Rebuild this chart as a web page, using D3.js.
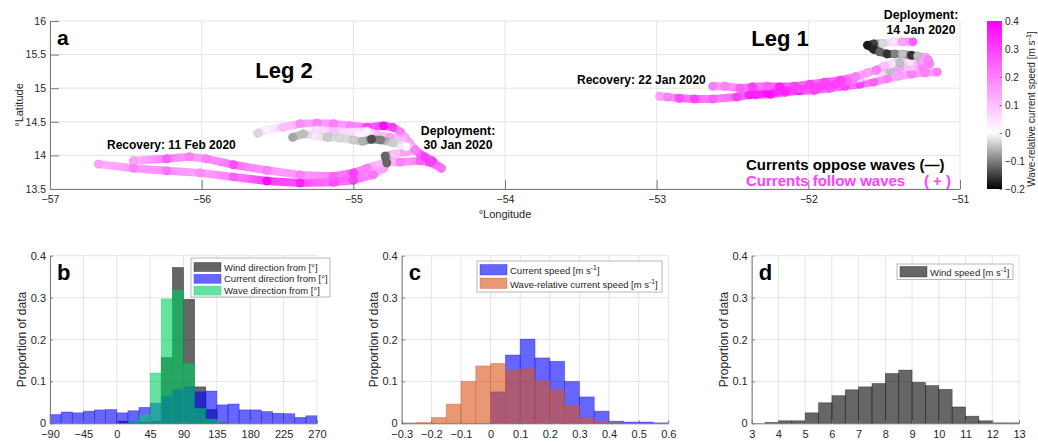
<!DOCTYPE html>
<html>
<head>
<meta charset="utf-8">
<script src="https://cdn.jsdelivr.net/npm/d3@7"></script>
<style>
  body { margin: 0; background: #fff; }
  svg { font-family: "Liberation Sans", Arial, Helvetica, sans-serif; display: block; }
</style>
</head>
<body>
<svg id="fig" width="1038" height="443"></svg>
<script>
// ---------------- Map tracks: [longitude, latitude, wave-relative current speed] ----------------
const leg2TrackA = [
  [-56.68,13.87,0.15],[-56.45,13.81,0.20],[-56.23,13.77,0.22],[-56.01,13.74,0.18],[-55.79,13.68,0.25],
  [-55.57,13.62,0.38],[-55.35,13.59,0.35],[-55.13,13.60,0.28],[-55.00,13.63,0.30],[-54.87,13.71,0.22],
  [-54.80,13.81,0.15],[-54.78,13.89,-0.12]
];
const leg2TrackB = [
  [-56.45,13.92,0.15],[-56.23,13.95,0.25],[-56.08,13.98,0.20],[-55.97,13.95,0.20],[-55.79,13.86,0.28],
  [-55.57,13.78,0.20],[-55.35,13.71,0.20],[-55.13,13.69,0.25],[-55.00,13.74,0.30],[-54.91,13.81,0.20],
  [-54.80,13.89,0.10],[-54.69,13.90,0.20],[-54.56,13.92,0.25],[-54.50,13.90,0.30],[-54.42,13.81,0.20]
];
const leg2Link = [
  [-54.78,13.89,-0.12],[-54.79,13.99,-0.12],[-54.73,14.02,0.10],[-54.66,14.05,0.15],[-54.59,14.08,0.20]
];
const leg2TrackC = [
  [-55.63,14.33,-0.03],[-55.57,14.38,0.02],[-55.46,14.42,0.10],[-55.35,14.47,0.18],[-55.24,14.48,0.20],
  [-55.13,14.47,0.20],[-55.02,14.44,0.20],[-54.91,14.42,0.30],[-54.80,14.44,0.38],[-54.74,14.42,0.30],
  [-54.69,14.35,0.20],[-54.66,14.27,0.15],[-54.63,14.19,0.15],[-54.59,14.08,0.20],[-54.56,14.02,0.25],
  [-54.53,13.98,0.30],[-54.48,13.92,0.30],[-54.42,13.81,0.22]
];
const leg2TrackD = [
  [-55.35,14.35,0.00],[-55.24,14.38,0.05],[-55.13,14.36,0.10],[-55.02,14.35,0.05],[-54.91,14.36,0.02],
  [-54.84,14.30,0.10],[-54.76,14.27,0.15],[-54.67,14.23,0.12],[-54.63,14.13,0.10]
];
const leg2TrackE = [
  [-55.40,14.27,-0.07],[-55.33,14.32,-0.05],[-55.25,14.29,0.04],[-55.17,14.27,-0.04],[-55.09,14.26,-0.03],
  [-55.00,14.23,-0.04],[-54.94,14.21,-0.06],[-54.88,14.24,-0.14],[-54.82,14.23,-0.10],[-54.74,14.19,-0.04],
  [-54.65,14.13,0.00]
];
const leg1TrackA = [
  [-51.31,15.69,0.25],[-51.38,15.69,0.15],[-51.44,15.69,0.05],[-51.51,15.67,-0.03],[-51.57,15.66,-0.15],
  [-51.61,15.64,-0.18],[-51.57,15.58,-0.17],[-51.53,15.54,-0.12],[-51.48,15.51,-0.16],[-51.43,15.51,-0.10],
  [-51.38,15.51,-0.05],[-51.32,15.49,-0.16],[-51.28,15.48,-0.05],[-51.23,15.46,0.15],[-51.21,15.42,0.20]
];
const leg1TrackB = [
  [-51.21,15.42,0.20],[-51.26,15.41,0.15],[-51.33,15.39,0.05],[-51.40,15.38,-0.05],[-51.45,15.36,0.05],
  [-51.50,15.33,0.10],[-51.55,15.27,0.20],[-51.61,15.23,0.15],[-51.69,15.17,0.20],[-51.79,15.12,0.30],
  [-51.89,15.09,0.30],[-51.99,15.06,0.30],[-52.09,15.03,0.30],[-52.19,15.02,0.35],[-52.27,15.03,0.25],
  [-52.37,15.02,0.30],[-52.45,15.00,0.25],[-52.55,15.03,0.20],[-52.63,15.03,0.20]
];
const leg1TrackC = [
  [-51.20,15.36,0.20],[-51.25,15.33,0.20],[-51.32,15.32,0.10],[-51.40,15.30,0.15],[-51.46,15.27,-0.05],
  [-51.53,15.23,0.05],[-51.59,15.20,0.00],[-51.66,15.15,0.10],[-51.74,15.11,0.25],[-51.82,15.06,0.30],
  [-51.92,15.03,0.30],[-52.06,14.99,0.28],[-52.15,14.96,0.35],[-52.27,14.93,0.38],[-52.39,14.90,0.35],
  [-52.47,14.87,0.30],[-52.63,14.84,0.25],[-52.75,14.84,0.30],[-52.85,14.85,0.28],[-52.93,14.87,0.20],
  [-52.98,14.88,0.15]
];
const leg1TrackD = [
  [-51.15,15.24,0.20],[-51.23,15.23,0.20],[-51.32,15.21,0.20],[-51.40,15.18,0.15],[-51.48,15.14,0.20],
  [-51.57,15.09,0.25],[-51.66,15.06,0.30],[-51.76,15.03,0.30],[-51.86,15.00,0.28],[-51.96,14.97,0.30],
  [-52.06,14.96,0.35],[-52.15,14.94,0.30],[-52.25,14.91,0.35],[-52.35,14.90,0.30]
];

const lonTicks = [-57, -56, -55, -54, -53, -52, -51];
const lonLabels = ["-57", "-56", "-55", "-54", "-53", "-52", "-51"];
const latTicks = [13.5, 14, 14.5, 15, 15.5, 16];
const latLabels = ["13.5", "14", "14.5", "15", "15.5", "16"];
const cbarTicks = [-0.2, -0.1, 0, 0.1, 0.2, 0.3, 0.4];
const cbarLabels = ["-0.2", "-0.1", "0", "0.1", "0.2", "0.3", "0.4"];

// ---------------- Histograms ----------------
const dirEdges = [-90,-75,-60,-45,-30,-15,0,15,30,45,60,75,90,105,120,135,150,165,180,195,210,225,240,255,270];
const windDir    = [0,0,0,0,0,0,0.005,0.003,0.003,0.005,0.157,0.372,0.296,0.087,0.033,0.002,0,0,0,0,0,0,0,0];
const currentDir = [0.021,0.027,0.025,0.029,0.032,0.033,0.025,0.030,0.038,0.048,0.064,0.080,0.087,0.075,0.077,0.044,0.046,0.032,0.032,0.028,0.024,0.023,0.014,0.018];
const waveDir    = [0,0,0,0,0,0,0,0.003,0.020,0.120,0.297,0.318,0.142,0.035,0.010,0.002,0,0,0,0,0,0,0,0];
const dirTicks = [-90,-45,0,45,90,135,180,225,270];
const dirLabels = ["-90","-45","0","45","90","135","180","225","270"];

const speedEdges = [-0.3,-0.25,-0.2,-0.15,-0.1,-0.05,0,0.05,0.1,0.15,0.2,0.25,0.3,0.35,0.4,0.45,0.5,0.55,0.6];
const currentSpeed  = [0,0,0,0,0,0,0.075,0.163,0.201,0.156,0.148,0.100,0.063,0.029,0.005,0.003,0.003,0.001];
const relativeSpeed = [0.001,0.002,0.014,0.046,0.100,0.137,0.143,0.127,0.130,0.101,0.080,0.042,0.014,0.004,0.001,0,0,0];
const speedTicks = [-0.3,-0.2,-0.1,0,0.1,0.2,0.3,0.4,0.5,0.6];
const speedLabels = ["-0.3","-0.2","-0.1","0","0.1","0.2","0.3","0.4","0.5","0.6"];

const windEdges = [3.5,4,4.5,5,5.5,6,6.5,7,7.5,8,8.5,9,9.5,10,10.5,11,11.5,12,12.5,13];
const windSpeed = [0.002,0.006,0.006,0.025,0.049,0.066,0.080,0.087,0.095,0.119,0.127,0.098,0.090,0.081,0.039,0.017,0.006,0.001,0.001];
const windTicks = [3,4,5,6,7,8,9,10,11,12,13];
const windLabels = ["3","4","5","6","7","8","9","10","11","12","13"];

const propTicks = [0, 0.1, 0.2, 0.3, 0.4];
const propLabels = ["0", "0.1", "0.2", "0.3", "0.4"];

// ---------------- Styling ----------------
const TXT = "#262626", GRID = "#e4e4e4", AXIS = "#7a7a7a";
const BLUE = "#0000ff", BLACK = "#000000", GREEN = "#00cf61", ORANGE = "#d95319";
const minus = s => s.replace("-", "\u2212");

const svg = d3.select("#fig");
const defs = svg.append("defs");
svg.append("rect").attr("width", 1038).attr("height", 443).attr("fill", "#fff");

const cmap = d3.scaleLinear().domain([-0.2, 0, 0.4]).range(["#000000", "#ffffff", "#ff00ff"]).clamp(true);

// text helper with superscript parts: [[text, isSup], ...]
function rich(sel, parts, size) {
  let prevSup = false;
  parts.forEach(([t, sup]) => {
    const dy = sup ? -size * 0.4 : (prevSup ? size * 0.4 : 0);
    const ts = sel.append("tspan").attr("dy", dy).text(t);
    if (sup) ts.attr("font-size", size * 0.72);
    prevSup = !!sup;
  });
  return sel;
}

function styleAxis(g, size) {
  g.attr("font-family", null).attr("font-size", size);
  g.select(".domain").attr("stroke", AXIS).attr("stroke-width", 1);
  g.selectAll(".tick line").attr("stroke", AXIS);
  g.selectAll(".tick text").attr("fill", TXT);
}

// ================= Panel a: map =================
const M = { l: 50, r: 960, t: 21, b: 189 };
const xLon = d3.scaleLinear().domain([-57, -51]).range([M.l, M.r]);
const yLat = d3.scaleLinear().domain([13.5, 16]).range([M.b, M.t]);

const mapG = svg.append("g");
mapG.append("g").selectAll("line").data(lonTicks).join("line")
  .attr("x1", d => xLon(d)).attr("x2", d => xLon(d)).attr("y1", M.t).attr("y2", M.b)
  .attr("stroke", GRID);
mapG.append("g").selectAll("line").data(latTicks).join("line")
  .attr("x1", M.l).attr("x2", M.r).attr("y1", d => yLat(d)).attr("y2", d => yLat(d))
  .attr("stroke", GRID);

// tracks: colour-graded segments with a dot at each fix
const trackG = mapG.append("g");
let segId = 0;
function drawTrack(pts) {
  const g = trackG.append("g");
  for (let i = 0; i < pts.length - 1; i++) {
    const a = pts[i], b = pts[i + 1];
    const id = "seg" + (segId++);
    const gr = defs.append("linearGradient").attr("id", id).attr("gradientUnits", "userSpaceOnUse")
      .attr("x1", xLon(a[0])).attr("y1", yLat(a[1])).attr("x2", xLon(b[0])).attr("y2", yLat(b[1]));
    gr.append("stop").attr("offset", 0).attr("stop-color", cmap(a[2]));
    gr.append("stop").attr("offset", 1).attr("stop-color", cmap(b[2]));
    g.append("line")
      .attr("x1", xLon(a[0])).attr("y1", yLat(a[1])).attr("x2", xLon(b[0])).attr("y2", yLat(b[1]))
      .attr("stroke", `url(#${id})`).attr("stroke-width", 8).attr("stroke-linecap", "round")
      .attr("stroke-opacity", 0.8);
  }
  g.selectAll("circle").data(pts).join("circle")
    .attr("cx", d => xLon(d[0])).attr("cy", d => yLat(d[1])).attr("r", 4.2)
    .attr("fill", d => cmap(d[2]))
    .attr("stroke", d => d3.color(cmap(d[2])).darker(0.6)).attr("stroke-width", 0.6).attr("stroke-opacity", 0.5);
}
[leg2TrackA, leg2TrackB, leg2TrackC, leg2TrackD, leg2Link, leg2TrackE,
 leg1TrackD, leg1TrackC, leg1TrackB, leg1TrackA].forEach(drawTrack);

// map axes
const mx = mapG.append("g").attr("transform", `translate(0,${M.b})`)
  .call(d3.axisBottom(xLon).tickValues(lonTicks).tickFormat((d, i) => minus(lonLabels[i]))
    .tickSizeInner(-9).tickSizeOuter(0).tickPadding(7));
styleAxis(mx, 10.5);
const my = mapG.append("g").attr("transform", `translate(${M.l},0)`)
  .call(d3.axisLeft(yLat).tickValues(latTicks).tickFormat((d, i) => latLabels[i])
    .tickSizeInner(-9).tickSizeOuter(0).tickPadding(4));
styleAxis(my, 10.5);

mapG.append("text").attr("x", (M.l + M.r) / 2).attr("y", 218).attr("text-anchor", "middle")
  .attr("font-size", 11).attr("fill", TXT).text("°Longitude");
mapG.append("text").attr("transform", "translate(23,105) rotate(-90)").attr("text-anchor", "middle")
  .attr("font-size", 11).attr("fill", TXT).text("°Latitude");

// annotations
const bold = (x, y, txt, size, anchor, fill) => mapG.append("text").attr("x", x).attr("y", y)
  .attr("text-anchor", anchor || "start").attr("font-weight", "bold").attr("font-size", size)
  .attr("fill", fill || "#000").text(txt);
bold(57, 45, "a", 21);
bold(284, 78, "Leg 2", 22, "middle");
bold(780, 46, "Leg 1", 22, "middle");
bold(107, 149, "Recovery: 11 Feb 2020", 12);
bold(458, 135, "Deployment:", 12.3, "middle");
bold(458, 149, "30 Jan 2020", 12.3, "middle");
bold(921, 19, "Deployment:", 12.3, "middle");
bold(921, 34, "14 Jan 2020", 12.3, "middle");
bold(577, 84, "Recovery: 22 Jan 2020", 12);
bold(746, 170, "Currents oppose waves (\u2014)", 15);
bold(746, 186, "Currents follow waves", 15, "start", "#ff40ff");
bold(951, 186, "( + )", 15, "end", "#ff40ff");

// colour bar
const CB = { x: 987, w: 15 };
const yCb = d3.scaleLinear().domain([-0.2, 0.4]).range([M.b, M.t]);
const cbGrad = defs.append("linearGradient").attr("id", "cbar").attr("x1", 0).attr("y1", 1).attr("x2", 0).attr("y2", 0);
cmap.domain().forEach(v => {
  cbGrad.append("stop").attr("offset", (v + 0.2) / 0.6).attr("stop-color", cmap(v));
});
svg.append("rect").attr("x", CB.x).attr("y", M.t).attr("width", CB.w).attr("height", M.b - M.t)
  .attr("fill", "url(#cbar)");
const cbAx = svg.append("g").attr("transform", `translate(${CB.x + CB.w},0)`)
  .call(d3.axisRight(yCb).tickValues(cbarTicks).tickFormat((d, i) => minus(cbarLabels[i]))
    .tickSizeInner(-2.5).tickSizeOuter(0).tickPadding(3));
styleAxis(cbAx, 10);
cbAx.select(".domain").attr("stroke", "none");
const cbLab = svg.append("text").attr("transform", "translate(1035,109) rotate(-90)")
  .attr("text-anchor", "middle").attr("font-size", 10).attr("fill", TXT);
rich(cbLab, [["Wave-relative current speed [m s", false], ["-1", true], ["]", false]], 10);

// ================= Histograms b, c, d =================
const HT = 255.7, HB = 423.3;
function histPanel(cfg) {
  const g = svg.append("g");
  const x = d3.scaleLinear().domain(cfg.domain).range([cfg.left, cfg.right]);
  const y = d3.scaleLinear().domain([0, 0.4]).range([HB, HT]);
  g.append("g").selectAll("line").data(cfg.xTicks).join("line")
    .attr("x1", d => x(d)).attr("x2", d => x(d)).attr("y1", HT).attr("y2", HB).attr("stroke", GRID);
  g.append("g").selectAll("line").data(propTicks).join("line")
    .attr("x1", cfg.left).attr("x2", cfg.right).attr("y1", d => y(d)).attr("y2", d => y(d)).attr("stroke", GRID);

  cfg.series.forEach(s => {
    const bins = s.values.map((v, i) => ({ v, a: s.edges[i], b: s.edges[i + 1] })).filter(d => d.v > 0);
    g.append("g").selectAll("rect").data(bins).join("rect")
      .attr("x", d => x(d.a)).attr("width", d => x(d.b) - x(d.a))
      .attr("y", d => y(d.v)).attr("height", d => y(0) - y(d.v))
      .attr("fill", s.color).attr("fill-opacity", 0.6)
      .attr("stroke", s.color).attr("stroke-opacity", 0.45).attr("stroke-width", 0.7);
  });

  const ax = g.append("g").attr("transform", `translate(0,${HB})`)
    .call(d3.axisBottom(x).tickValues(cfg.xTicks).tickFormat((d, i) => minus(cfg.xLabels[i]))
      .tickSizeInner(-3).tickSizeOuter(0).tickPadding(6.5));
  styleAxis(ax, 11);
  const ay = g.append("g").attr("transform", `translate(${cfg.left},0)`)
    .call(d3.axisLeft(y).tickValues(propTicks).tickFormat((d, i) => propLabels[i])
      .tickSizeInner(-3).tickSizeOuter(0).tickPadding(4));
  styleAxis(ay, 11);

  g.append("text").attr("transform", `translate(${cfg.left - 24},${(HT + HB) / 2}) rotate(-90)`)
    .attr("text-anchor", "middle").attr("font-size", 12).attr("fill", TXT).text("Proportion of data");
  g.append("text").attr("x", cfg.left + 7).attr("y", 280).attr("font-weight", "bold")
    .attr("font-size", 22).attr("fill", "#000").text(cfg.letter);

  // legend
  const L = cfg.legend;
  g.append("rect").attr("x", L.x).attr("y", L.y).attr("width", L.w).attr("height", L.h)
    .attr("fill", "#fff").attr("stroke", "#a6a6a6").attr("stroke-width", 0.8);
  cfg.series.forEach((s, i) => {
    const ry = L.y + L.pad + i * L.pitch;
    g.append("rect").attr("x", L.x + 3).attr("y", ry).attr("width", 27).attr("height", L.sh)
      .attr("fill", s.color).attr("fill-opacity", 0.6)
      .attr("stroke", s.color).attr("stroke-opacity", 0.45).attr("stroke-width", 0.7);
    const t = g.append("text").attr("x", L.x + 33).attr("y", ry + L.sh - 1)
      .attr("font-size", 9.5).attr("fill", TXT);
    rich(t, s.label, 9.5);
  });
}

histPanel({
  left: 50, right: 317, domain: [-90, 270], xTicks: dirTicks, xLabels: dirLabels, letter: "b",
  series: [
    { edges: dirEdges, values: windDir, color: BLACK, label: [["Wind direction from [°]", false]] },
    { edges: dirEdges, values: currentDir, color: BLUE, label: [["Current direction from [°]", false]] },
    { edges: dirEdges, values: waveDir, color: GREEN, label: [["Wave direction from [°]", false]] }
  ],
  legend: { x: 191, y: 258, w: 139, h: 39, pad: 4.5, pitch: 11.8, sh: 9 }
});

histPanel({
  left: 401.7, right: 668.3, domain: [-0.3, 0.6], xTicks: speedTicks, xLabels: speedLabels, letter: "c",
  series: [
    { edges: speedEdges, values: currentSpeed, color: BLUE, label: [["Current speed [m s", false], ["-1", true], ["]", false]] },
    { edges: speedEdges, values: relativeSpeed, color: ORANGE, label: [["Wave-relative current speed [m s", false], ["-1", true], ["]", false]] }
  ],
  legend: { x: 477, y: 261, w: 185, h: 31, pad: 3.5, pitch: 13.5, sh: 10.5 }
});

histPanel({
  left: 751.7, right: 1019, domain: [3, 13], xTicks: windTicks, xLabels: windLabels, letter: "d",
  series: [
    { edges: windEdges, values: windSpeed, color: BLACK, label: [["Wind speed [m s", false], ["-1", true], ["]", false]] }
  ],
  legend: { x: 897, y: 264, w: 116, h: 15.5, pad: 2.5, pitch: 12, sh: 10.5 }
});
</script>
</body>
</html>
